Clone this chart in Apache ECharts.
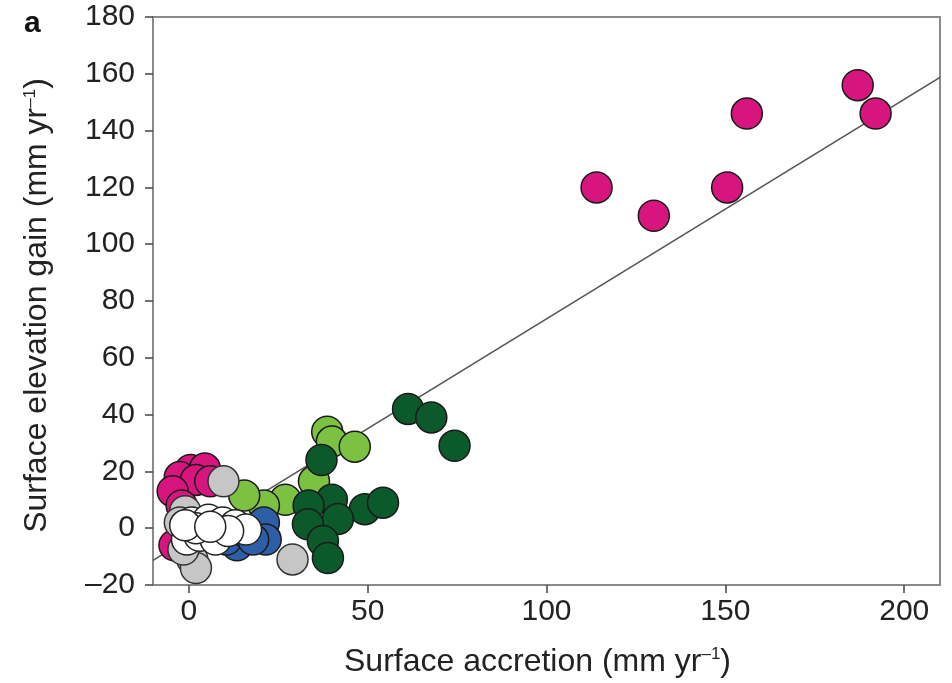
<!DOCTYPE html>
<html>
<head>
<meta charset="utf-8">
<script src="https://cdn.jsdelivr.net/npm/echarts@6/dist/echarts.min.js"></script>
<style>html,body{margin:0;padding:0;background:#fff}#c{width:952px;height:683px}</style>
</head>
<body>
<div id="c"></div>
<script>
// ---- data ----
const xTicks = [0, 50, 100, 150, 200];
const yTicks = [-20, 0, 20, 40, 60, 80, 100, 120, 140, 160, 180];
const lightGreen = [[38.7,34],[40,30.5],[46.4,28.7],[35,16.5],[27,10],[21,8],[15.5,11.5]];
const darkGreen = [[61.3,42],[67.8,39],[74.3,29],[37.1,24],[40,10],[33.5,8],[49.2,6.7],[54.3,9],[41.7,3.2],[33.3,1.4],[37.5,-4.5],[38.9,-10.5]];
const magenta = [[114,120],[130,110],[150.5,120],[156,146],[187,156],[192,146],
  [0.5,20.5],[4.5,21],[-2.5,18],[2,17],[6,16.5],[-4.5,13],[-2,8],[-4,-6]];
const grey = [[9.7,16.5],[29,-11],[1,-11],[2,-14],[-1.5,-7.5],[-1,6],[-2.5,2]];
const blue = [[21,2],[21.5,-4],[13.5,-6],[10.5,-4],[16,-1.5],[18,-4]];
const open = [[0.8,2],[5.5,3],[9.5,2],[13,1],[16,-0.5],[-0.5,-4],[3,-2.7],[7.5,-4],[11,-1],[2,0],[-1,1],[6,0.5]];
const fit = { slope: 0.773, intercept: -3.6 };
const xRange = [-10, 210];
const yRange = [-20, 180];

const chart = echarts.init(document.getElementById('c'));
const font = 'Liberation Sans';
const fitData = xRange.map(x => [x, fit.slope * x + fit.intercept]);
const dash = v => String(v).replace('-', '\u2013');

function sc(name, data, color, border) {
  return {
    name, type: 'scatter', data, symbolSize: 31,
    itemStyle: { color, borderColor: border || '#1a1a1a', borderWidth: 1.5, opacity: 1 },
    emphasis: { disabled: true }, z: 3
  };
}

chart.setOption({
  animation: false,
  grid: { left: 153, right: 12, top: 17, bottom: 97, show: true, borderColor: '#8a8a8a', borderWidth: 2 },
  graphic: [{ type: 'text', left: 24, top: 9, style: { text: 'a', font: 'bold 30px "Liberation Sans"', fill: '#111' } }],
  xAxis: {
    type: 'value', min: xRange[0], max: xRange[1],
    name: 'Surface accretion (mm yr{s|\u20131})', nameLocation: 'middle', nameGap: 61,
    nameTextStyle: { fontFamily: font, fontSize: 32, color: '#222', verticalAlign: 'top', padding: [0, 18, 0, 0],
      rich: { s: { fontFamily: font, fontSize: 17, color: '#222', verticalAlign: 'top', padding: [0, 0, 14, 0] } } },
    axisLine: { show: true, onZero: false, lineStyle: { color: '#8a8a8a', width: 2 } },
    axisTick: { show: true, customValues: xTicks, length: 8, lineStyle: { color: '#444', width: 1.5 } },
    axisLabel: { customValues: xTicks, fontFamily: font, fontSize: 30, color: '#222', margin: 12, formatter: dash },
    splitLine: { show: false }
  },
  yAxis: {
    type: 'value', min: yRange[0], max: yRange[1], interval: 20,
    name: 'Surface elevation gain (mm yr{s|\u20131})', nameLocation: 'middle', nameGap: 100, nameRotate: 90,
    nameTextStyle: { fontFamily: font, fontSize: 32, color: '#222', padding: [0, 9, 0, 0],
      rich: { s: { fontFamily: font, fontSize: 17, color: '#222', padding: [0, 0, 14, 0] } } },
    axisLine: { show: true, onZero: false, lineStyle: { color: '#8a8a8a', width: 2 } },
    axisTick: { show: true, length: 8, lineStyle: { color: '#444', width: 1.5 } },
    axisLabel: { fontFamily: font, fontSize: 30, color: '#222', margin: 18, formatter: dash },
    splitLine: { show: false }
  },
  series: [
    { type: 'line', data: fitData, symbol: 'none', lineStyle: { color: '#555', width: 1.6 }, z: 2, silent: true },
    sc('light', lightGreen, '#7dc143'),
    sc('dark', darkGreen, '#0c5a2c'),
    sc('magenta', magenta, '#d8157f'),
    sc('grey', grey, '#c6c6c6', '#333'),
    sc('blue', blue, '#2f5ea8'),
    sc('open', open, '#ffffff', '#222')
  ]
});
</script>
</body>
</html>
